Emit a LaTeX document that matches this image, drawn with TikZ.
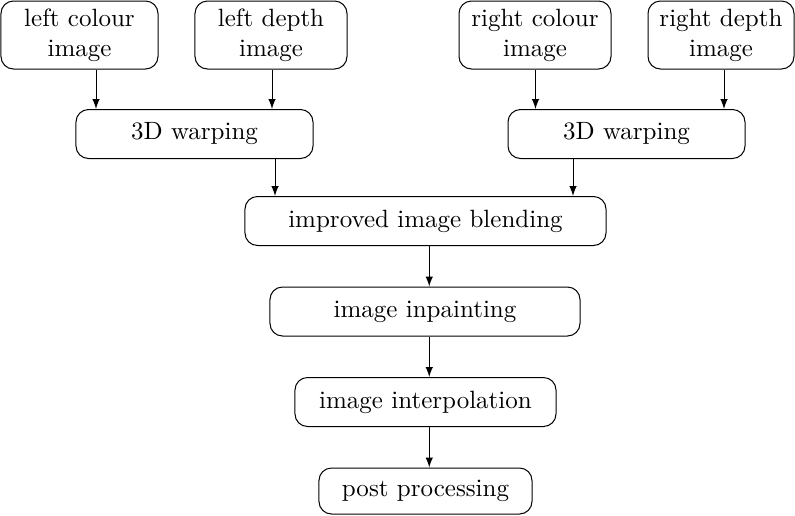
\documentclass[tikz,border=0pt]{standalone}
\usetikzlibrary{arrows}

\begin{document}
\begin{tikzpicture}[x=0.4pt,y=-0.4pt,
		box/.style={draw,rounded corners=5pt,inner sep=0pt,align=center},
		src/.style={box,minimum height=27.2pt},
		stage/.style={box,minimum height=19.6pt},
		>=latex]
			\useasboundingbox (0,0) rectangle (795,515);

			\node[src,minimum width=62.8pt] (lc) at (79.5,35) {left colour\\image};
			\node[src,minimum width=60.8pt] (ld) at (271,35) {left depth\\image};
			\node[src,minimum width=60.8pt] (rc) at (535,35) {right colour\\image};
			\node[src,minimum width=58.4pt] (rd) at (721,35) {right depth\\image};

			\node[stage,minimum width=94.8pt] (wl) at (194.5,134) {3D warping};
			\node[stage,minimum width=94.8pt] (wr) at (626.5,134) {3D warping};

			\node[stage,minimum width=144.4pt] (blend) at (425.5,221) {improved image blending};
			\node[stage,minimum width=124pt] (inpaint) at (425,311.5) {image inpainting};
			\node[stage,minimum width=104.4pt] (interp) at (425.5,402) {image interpolation};
			\node[stage,minimum width=85.2pt,minimum height=18.4pt] (post) at (425.5,491) {post processing};

			% inputs
			\draw[->] ([xshift=6.6pt]lc.south) -- ([xshift=6.6pt]lc.south |- wl.north);
			\draw[->] ([xshift=0.4pt]ld.south) -- ([xshift=0.4pt]ld.south |- wl.north);
			\draw[->] ([xshift=0.2pt]rc.south) -- ([xshift=0.2pt]rc.south |- wr.north);
			\draw[->] ([xshift=1.2pt]rd.south) -- ([xshift=1.2pt]rd.south |- wr.north);

			% warping to blending
			\draw[->] ([xshift=32.2pt]wl.south) -- ([xshift=32.2pt]wl.south |- blend.north);
			\draw[->] ([xshift=-21.4pt]wr.south) -- ([xshift=-21.4pt]wr.south |- blend.north);

			\draw[->] ([xshift=1.5pt]blend.south) -- ([xshift=1.5pt]blend.south |- inpaint.north);
			\draw[->] ([xshift=1.7pt]inpaint.south) -- ([xshift=1.7pt]inpaint.south |- interp.north);
			\draw[->] ([xshift=1.5pt]interp.south) -- ([xshift=1.5pt]interp.south |- post.north);
		\end{tikzpicture}
\end{document}
